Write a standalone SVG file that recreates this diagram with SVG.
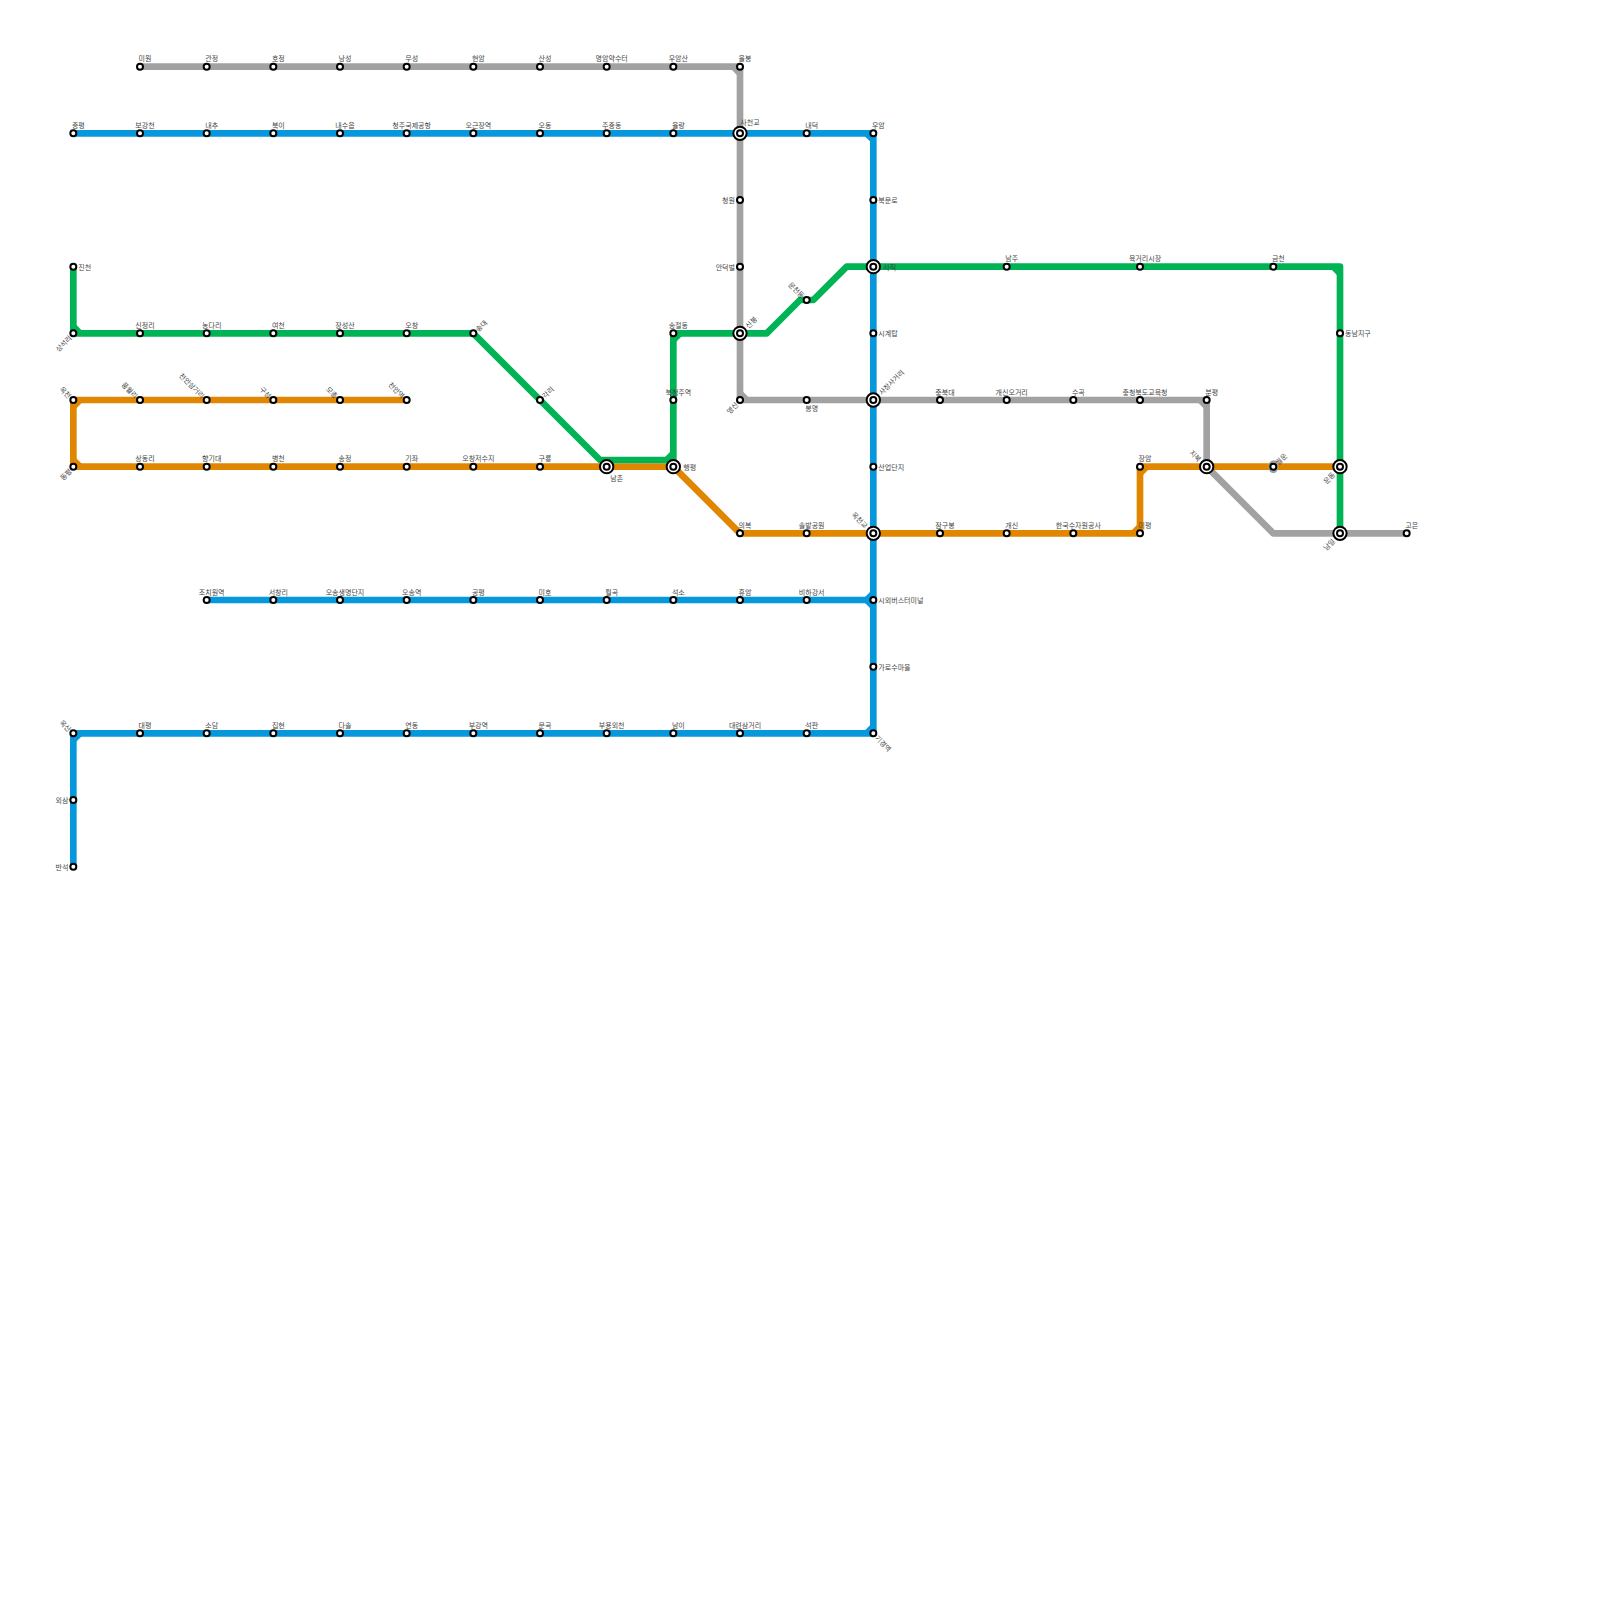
<svg xmlns="http://www.w3.org/2000/svg" width="1600" height="1600" viewBox="0 0 1600 1600">
<defs>
<style>
.l{fill:none;stroke-width:6.67;stroke-linejoin:round}
.gy{stroke:#a2a2a2}.bl{stroke:#0798db}.gn{stroke:#00b355}.or{stroke:#e08600}
.o{fill:#fff;stroke:#000;stroke-width:2}
.t{font-family:"Noto Sans CJK KR","Noto Sans",sans-serif;font-size:7px;fill:#3a3a3a;dominant-baseline:central;opacity:.95}
.a{text-anchor:middle}.e{text-anchor:end}
</style>
<g id="s"><circle class="o" r="3"/></g>
<g id="h"><circle class="o" r="6.67"/><circle class="o" r="3"/></g>
</defs>
<rect width="1600" height="1600" fill="#fff"/>
<g id="connectors">
<path class="l gy" d="M140 66.67H740V400H1206.67V466.67L1273.33 533.33H1406.67"/>
<path class="l gy" d="M733.33 66.67L740 73.33M740 393.33L746.67 400M1200 400L1206.67 406.67"/>
<path class="l bl" d="M73.33 133.33H873.33V733.33H73.33V866.67M206.67 600H873.33"/>
<path class="l bl" d="M866.67 133.33L873.33 140M866.67 600L873.33 593.33M866.67 600L873.33 606.67M866.67 733.33L873.33 726.67M80 733.33L73.33 740"/>
<path class="l or" d="M406.67 400H73.33V466.67H606.67H673.33L740 533.33H1140V466.67H1340"/>
<path class="l or" d="M73.33 406.67L80 400M73.33 460L80 466.67M1133.33 533.33L1140 526.67M1140 473.33L1146.67 466.67"/>
<path class="l gn" d="M73.33 266.67V333.33H473.33L600 460H673.33V333.33H766.67L800 300H813.33L846.67 266.67H1340V533.33"/>
<path class="l gn" d="M73.33 326.67L80 333.33M666.67 460L673.33 453.33M673.33 340L680 333.33M1333.33 266.67L1340 273.33"/>
<ellipse cx="1273.33" cy="466.67" rx="5" ry="6.5" fill="#a2a2a2"/>
</g>
<g id="nodes">
<g id="n1"><use href="#s" x="140" y="66.67"/><text class="t a" x="145" y="58.33">미원</text></g>
<g id="n2"><use href="#s" x="206.67" y="66.67"/><text class="t a" x="211.67" y="58.33">관정</text></g>
<g id="n3"><use href="#s" x="273.33" y="66.67"/><text class="t a" x="278.33" y="58.33">호정</text></g>
<g id="n4"><use href="#s" x="340" y="66.67"/><text class="t a" x="345" y="58.33">낭성</text></g>
<g id="n5"><use href="#s" x="406.67" y="66.67"/><text class="t a" x="411.67" y="58.33">무성</text></g>
<g id="n6"><use href="#s" x="473.33" y="66.67"/><text class="t a" x="478.33" y="58.33">현암</text></g>
<g id="n7"><use href="#s" x="540" y="66.67"/><text class="t a" x="545" y="58.33">산성</text></g>
<g id="n8"><use href="#s" x="606.67" y="66.67"/><text class="t a" x="611.67" y="58.33">명암약수터</text></g>
<g id="n9"><use href="#s" x="673.33" y="66.67"/><text class="t a" x="678.33" y="58.33">우암산</text></g>
<g id="n10"><use href="#s" x="740" y="66.67"/><text class="t a" x="745" y="58.33">율봉</text></g>
<g id="n11"><use href="#s" x="73.33" y="133.33"/><text class="t a" x="78.33" y="125">증평</text></g>
<g id="n12"><use href="#s" x="140" y="133.33"/><text class="t a" x="145" y="125">보강천</text></g>
<g id="n13"><use href="#s" x="206.67" y="133.33"/><text class="t a" x="211.67" y="125">내추</text></g>
<g id="n14"><use href="#s" x="273.33" y="133.33"/><text class="t a" x="278.33" y="125">북이</text></g>
<g id="n15"><use href="#s" x="340" y="133.33"/><text class="t a" x="345" y="125">내수읍</text></g>
<g id="n16"><use href="#s" x="406.67" y="133.33"/><text class="t a" x="411.67" y="125">청주국제공항</text></g>
<g id="n17"><use href="#s" x="473.33" y="133.33"/><text class="t a" x="478.33" y="125">오근장역</text></g>
<g id="n18"><use href="#s" x="540" y="133.33"/><text class="t a" x="545" y="125">오동</text></g>
<g id="n19"><use href="#s" x="606.67" y="133.33"/><text class="t a" x="611.67" y="125">주중동</text></g>
<g id="n20"><use href="#s" x="673.33" y="133.33"/><text class="t a" x="678.33" y="125">율량</text></g>
<g id="n21"><use href="#h" x="740" y="133.33"/><text class="t a" x="750" y="121.67">사천교</text></g>
<g id="n22"><use href="#s" x="806.67" y="133.33"/><text class="t a" x="811.67" y="125">내덕</text></g>
<g id="n23"><use href="#s" x="873.33" y="133.33"/><text class="t a" x="878.33" y="125">우암</text></g>
<g id="n24"><use href="#s" x="740" y="200"/><text class="t e" x="735" y="200">청원</text></g>
<g id="n25"><use href="#s" x="873.33" y="200"/><text class="t" x="878.33" y="200">북문로</text></g>
<g id="n26"><use href="#s" x="73.33" y="266.67"/><text class="t" x="78.33" y="266.67">진천</text></g>
<g id="n27"><use href="#s" x="740" y="266.67"/><text class="t e" x="735" y="266.67">안덕벌</text></g>
<g id="n28"><use href="#h" x="873.33" y="266.67"/><text class="t" x="883.33" y="266.67">사직</text></g>
<g id="n29"><use href="#s" x="1006.67" y="266.67"/><text class="t a" x="1011.67" y="258.33">남주</text></g>
<g id="n30"><use href="#s" x="1140" y="266.67"/><text class="t a" x="1145" y="258.33">육거리시장</text></g>
<g id="n31"><use href="#s" x="1273.33" y="266.67"/><text class="t a" x="1278.33" y="258.33">금천</text></g>
<g id="n32"><use href="#s" x="806.67" y="300"/><text class="t e" transform="translate(803.5 296.8) rotate(45)">문천동</text></g>
<g id="n33"><use href="#s" x="73.33" y="333.33"/><text class="t e" transform="translate(70.2 336.5) rotate(-45)">상석리</text></g>
<g id="n34"><use href="#s" x="140" y="333.33"/><text class="t a" x="145" y="325">신정리</text></g>
<g id="n35"><use href="#s" x="206.67" y="333.33"/><text class="t a" x="211.67" y="325">농다리</text></g>
<g id="n36"><use href="#s" x="273.33" y="333.33"/><text class="t a" x="278.33" y="325">여천</text></g>
<g id="n37"><use href="#s" x="340" y="333.33"/><text class="t a" x="345" y="325">장성산</text></g>
<g id="n38"><use href="#s" x="406.67" y="333.33"/><text class="t a" x="411.67" y="325">오창</text></g>
<g id="n39"><use href="#s" x="473.33" y="333.33"/><text class="t" transform="translate(476.5 330.2) rotate(-45)">송대</text></g>
<g id="n40"><use href="#s" x="673.33" y="333.33"/><text class="t a" x="678.33" y="325">송절동</text></g>
<g id="n41"><use href="#h" x="740" y="333.33"/><text class="t" transform="translate(746.5 326.8) rotate(-45)">신봉</text></g>
<g id="n42"><use href="#s" x="873.33" y="333.33"/><text class="t" x="878.33" y="333.33">시계탑</text></g>
<g id="n43"><use href="#s" x="1340" y="333.33"/><text class="t" x="1345" y="333.33">동남지구</text></g>
<g id="n44"><use href="#s" x="73.33" y="400"/><text class="t e" transform="translate(70.2 396.8) rotate(45)">옥천</text></g>
<g id="n45"><use href="#s" x="140" y="400"/><text class="t e" transform="translate(136.8 396.8) rotate(45)">풍월리</text></g>
<g id="n46"><use href="#s" x="206.67" y="400"/><text class="t e" transform="translate(203.5 396.8) rotate(45)">천안삼거리</text></g>
<g id="n47"><use href="#s" x="273.33" y="400"/><text class="t e" transform="translate(270.2 396.8) rotate(45)">구성</text></g>
<g id="n48"><use href="#s" x="340" y="400"/><text class="t e" transform="translate(336.8 396.8) rotate(45)">모총</text></g>
<g id="n49"><use href="#s" x="406.67" y="400"/><text class="t e" transform="translate(403.5 396.8) rotate(45)">천안역</text></g>
<g id="n50"><use href="#s" x="540" y="400"/><text class="t" transform="translate(543.2 396.8) rotate(-45)">각리</text></g>
<g id="n51"><use href="#s" x="673.33" y="400"/><text class="t a" x="678.33" y="391.67">북청주역</text></g>
<g id="n52"><use href="#s" x="740" y="400"/><text class="t e" transform="translate(736.8 403.2) rotate(-45)">영신</text></g>
<g id="n53"><use href="#s" x="806.67" y="400"/><text class="t a" x="811.67" y="408.33">봉명</text></g>
<g id="n54"><use href="#h" x="873.33" y="400"/><text class="t" transform="translate(879.8 393.5) rotate(-45)">사창사거리</text></g>
<g id="n55"><use href="#s" x="940" y="400"/><text class="t a" x="945" y="391.67">충북대</text></g>
<g id="n56"><use href="#s" x="1006.67" y="400"/><text class="t a" x="1011.67" y="391.67">개신오거리</text></g>
<g id="n57"><use href="#s" x="1073.33" y="400"/><text class="t a" x="1078.33" y="391.67">수곡</text></g>
<g id="n58"><use href="#s" x="1140" y="400"/><text class="t a" x="1145" y="391.67">충청북도교육청</text></g>
<g id="n59"><use href="#s" x="1206.67" y="400"/><text class="t a" x="1211.67" y="391.67">분평</text></g>
<g id="n60"><use href="#s" x="73.33" y="466.67"/><text class="t e" transform="translate(70.2 469.8) rotate(-45)">동평</text></g>
<g id="n61"><use href="#s" x="140" y="466.67"/><text class="t a" x="145" y="458.33">상동리</text></g>
<g id="n62"><use href="#s" x="206.67" y="466.67"/><text class="t a" x="211.67" y="458.33">향기대</text></g>
<g id="n63"><use href="#s" x="273.33" y="466.67"/><text class="t a" x="278.33" y="458.33">병천</text></g>
<g id="n64"><use href="#s" x="340" y="466.67"/><text class="t a" x="345" y="458.33">송정</text></g>
<g id="n65"><use href="#s" x="406.67" y="466.67"/><text class="t a" x="411.67" y="458.33">기좌</text></g>
<g id="n66"><use href="#s" x="473.33" y="466.67"/><text class="t a" x="478.33" y="458.33">오창저수지</text></g>
<g id="n67"><use href="#s" x="540" y="466.67"/><text class="t a" x="545" y="458.33">구룡</text></g>
<g id="n68"><use href="#h" x="606.67" y="466.67"/><text class="t a" x="616.67" y="478.33">남촌</text></g>
<g id="n69"><use href="#h" x="673.33" y="466.67"/><text class="t" x="683.33" y="466.67">행평</text></g>
<g id="n70"><use href="#s" x="873.33" y="466.67"/><text class="t" x="878.33" y="466.67">산업단지</text></g>
<g id="n71"><use href="#s" x="1140" y="466.67"/><text class="t a" x="1145" y="458.33">장암</text></g>
<g id="n72"><use href="#h" x="1206.67" y="466.67"/><text class="t e" transform="translate(1200.2 460.2) rotate(45)">지북</text></g>
<g id="n73"><use href="#s" x="1273.33" y="466.67"/><text class="t" transform="translate(1276.5 463.5) rotate(-45)">월운</text></g>
<g id="n74"><use href="#h" x="1340" y="466.67"/><text class="t e" transform="translate(1333.5 473.2) rotate(-45)">운동</text></g>
<g id="n75"><use href="#s" x="740" y="533.33"/><text class="t a" x="745" y="525">의복</text></g>
<g id="n76"><use href="#s" x="806.67" y="533.33"/><text class="t a" x="811.67" y="525">솔밭공원</text></g>
<g id="n77"><use href="#h" x="873.33" y="533.33"/><text class="t e" transform="translate(866.8 526.8) rotate(45)">옥천교</text></g>
<g id="n78"><use href="#s" x="940" y="533.33"/><text class="t a" x="945" y="525">잠구봉</text></g>
<g id="n79"><use href="#s" x="1006.67" y="533.33"/><text class="t a" x="1011.67" y="525">개신</text></g>
<g id="n80"><use href="#s" x="1073.33" y="533.33"/><text class="t a" x="1078.33" y="525">한국수자원공사</text></g>
<g id="n81"><use href="#s" x="1140" y="533.33"/><text class="t a" x="1145" y="525">미평</text></g>
<g id="n82"><use href="#h" x="1340" y="533.33"/><text class="t e" transform="translate(1333.5 539.8) rotate(-45)">남일</text></g>
<g id="n83"><use href="#s" x="1406.67" y="533.33"/><text class="t a" x="1411.67" y="525">고은</text></g>
<g id="n84"><use href="#s" x="206.67" y="600"/><text class="t a" x="211.67" y="591.67">조치원역</text></g>
<g id="n85"><use href="#s" x="273.33" y="600"/><text class="t a" x="278.33" y="591.67">서창리</text></g>
<g id="n86"><use href="#s" x="340" y="600"/><text class="t a" x="345" y="591.67">오송생명단지</text></g>
<g id="n87"><use href="#s" x="406.67" y="600"/><text class="t a" x="411.67" y="591.67">오송역</text></g>
<g id="n88"><use href="#s" x="473.33" y="600"/><text class="t a" x="478.33" y="591.67">공평</text></g>
<g id="n89"><use href="#s" x="540" y="600"/><text class="t a" x="545" y="591.67">미호</text></g>
<g id="n90"><use href="#s" x="606.67" y="600"/><text class="t a" x="611.67" y="591.67">월곡</text></g>
<g id="n91"><use href="#s" x="673.33" y="600"/><text class="t a" x="678.33" y="591.67">석소</text></g>
<g id="n92"><use href="#s" x="740" y="600"/><text class="t a" x="745" y="591.67">휴암</text></g>
<g id="n93"><use href="#s" x="806.67" y="600"/><text class="t a" x="811.67" y="591.67">비하강서</text></g>
<g id="n94"><use href="#s" x="873.33" y="600"/><text class="t" x="878.33" y="600">시외버스터미널</text></g>
<g id="n95"><use href="#s" x="873.33" y="666.67"/><text class="t" x="878.33" y="666.67">가로수마을</text></g>
<g id="n96"><use href="#s" x="73.33" y="733.33"/><text class="t e" transform="translate(70.2 730.2) rotate(45)">옥산</text></g>
<g id="n97"><use href="#s" x="140" y="733.33"/><text class="t a" x="145" y="725">대평</text></g>
<g id="n98"><use href="#s" x="206.67" y="733.33"/><text class="t a" x="211.67" y="725">소담</text></g>
<g id="n99"><use href="#s" x="273.33" y="733.33"/><text class="t a" x="278.33" y="725">집현</text></g>
<g id="n100"><use href="#s" x="340" y="733.33"/><text class="t a" x="345" y="725">다솔</text></g>
<g id="n101"><use href="#s" x="406.67" y="733.33"/><text class="t a" x="411.67" y="725">연동</text></g>
<g id="n102"><use href="#s" x="473.33" y="733.33"/><text class="t a" x="478.33" y="725">부강역</text></g>
<g id="n103"><use href="#s" x="540" y="733.33"/><text class="t a" x="545" y="725">문곡</text></g>
<g id="n104"><use href="#s" x="606.67" y="733.33"/><text class="t a" x="611.67" y="725">부용외천</text></g>
<g id="n105"><use href="#s" x="673.33" y="733.33"/><text class="t a" x="678.33" y="725">남이</text></g>
<g id="n106"><use href="#s" x="740" y="733.33"/><text class="t a" x="745" y="725">대련삼거리</text></g>
<g id="n107"><use href="#s" x="806.67" y="733.33"/><text class="t a" x="811.67" y="725">석판</text></g>
<g id="n108"><use href="#s" x="873.33" y="733.33"/><text class="t" transform="translate(876.5 736.5) rotate(45)">기경역</text></g>
<g id="n109"><use href="#s" x="73.33" y="800"/><text class="t e" x="68.33" y="800">외삼</text></g>
<g id="n110"><use href="#s" x="73.33" y="866.67"/><text class="t e" x="68.33" y="866.67">반석</text></g>
</g>
</svg>
